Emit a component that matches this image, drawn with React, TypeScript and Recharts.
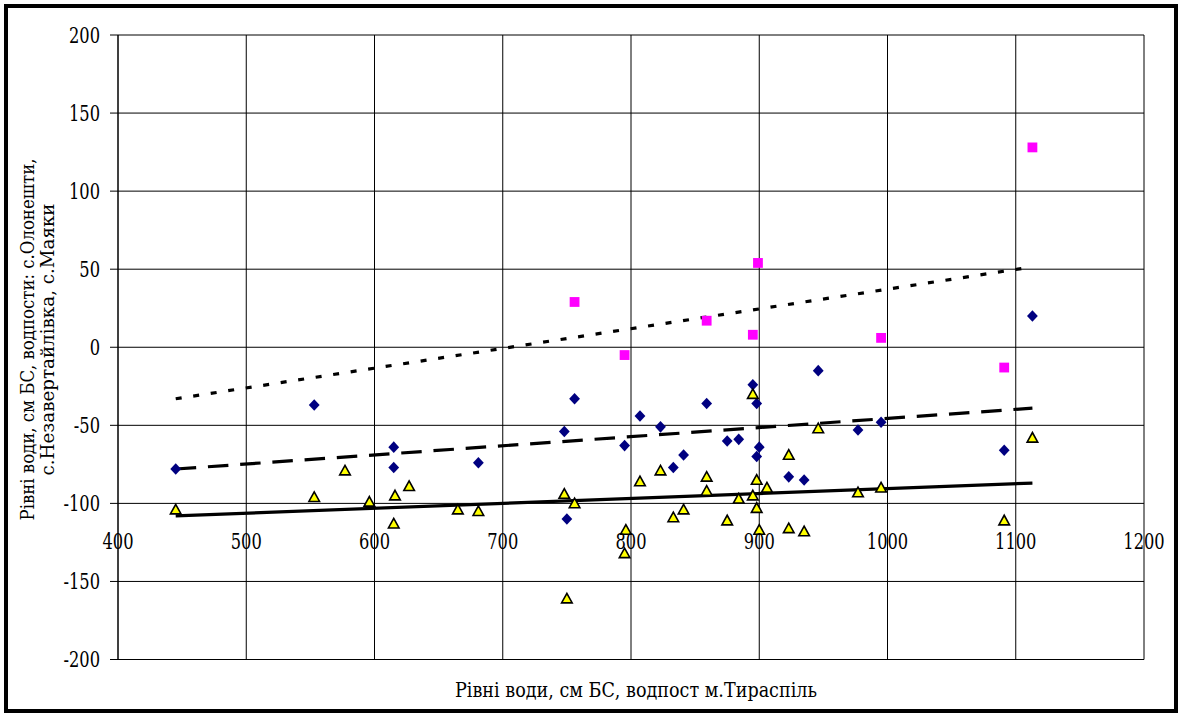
import React from 'react'
import {
  ScatterChart,
  Scatter,
  XAxis,
  YAxis,
  CartesianGrid,
  ReferenceLine,
} from 'recharts'

// axis ticks
const xTicks = [400, 500, 600, 700, 800, 900, 1000, 1100, 1200]
const yTicks = [-200, -150, -100, -50, 0, 50, 100, 150, 200]

// с.Олонешти (blue diamonds)
const blueX = [445, 553, 615, 615, 681, 748, 750, 756, 795, 807, 823, 833, 841, 859, 875, 884, 895, 898, 900, 898, 923, 935, 946, 977, 995, 1091, 1113]
const blueY = [-78, -37, -64, -77, -74, -54, -110, -33, -63, -44, -51, -77, -69, -36, -60, -59, -24, -36, -64, -70, -83, -85, -15, -53, -48, -66, 20]

// с.Незавертайлівка (magenta squares)
const pinkX = [756, 795, 859, 895, 899, 995, 1091, 1113]
const pinkY = [29, -5, 17, 8, 54, 6, -13, 128]

// с.Маяки (yellow triangles)
const yellowX = [445, 553, 577, 596, 615, 616, 627, 665, 681, 748, 750, 756, 795, 796, 807, 823, 833, 841, 859, 859, 875, 884, 895, 895, 898, 898, 900, 906, 923, 923, 935, 946, 977, 995, 1091, 1113]
const yellowY = [-104, -96, -79, -99, -113, -95, -89, -104, -105, -94, -161, -100, -132, -117, -86, -79, -109, -104, -83, -92, -111, -97, -30, -95, -85, -103, -117, -90, -69, -116, -118, -52, -93, -90, -111, -58]

// linear trend lines (start / end)
const trendX = [445, 1113]
const trendPink = [-33, 51.5]
const trendBlue = [-78, -39]
const trendYellow = [-108, -87]

const X_CROSS = -100

const W = 1178
const H = 713
const PLOT_TOP = 35
const PLOT_BOTTOM = 659.5
const PLOT_H = PLOT_BOTTOM - PLOT_TOP
// only DejaVu Serif resolves as a serif face here; squeeze it to look like Times
const FONT = 'DejaVu Serif'
const SQUEEZE = 0.74

const toPoints = (xs: number[], ys: number[]) => xs.map((x, i) => ({ x, y: ys[i] }))

const Diamond = ({ cx, cy }: any) => (
  <path d={`M${cx},${cy - 5.8} L${cx + 5.4},${cy} L${cx},${cy + 5.8} L${cx - 5.4},${cy} Z`} fill="#000080" />
)

const Square = ({ cx, cy }: any) => (
  <rect x={cx - 4.9} y={cy - 4.9} width={9.8} height={9.8} fill="#FF00FF" />
)

const Triangle = ({ cx, cy }: any) => (
  <path
    d={`M${cx},${cy - 5.3} L${cx + 5.3},${cy + 4.3} L${cx - 5.3},${cy + 4.3} Z`}
    fill="#FFFF00"
    stroke="#000"
    strokeWidth={1.6}
  />
)

const squeezed = (x: number, y: number) =>
  `translate(${x} ${y}) scale(${SQUEEZE} 1) translate(${-x} ${-y})`

// x tick labels sit under the line where the x axis crosses (y = -100)
const XTick = ({ x, y, payload }: any) => {
  const [yMin, yMax] = [yTicks[0], yTicks[yTicks.length - 1]]
  const crossY = y - (PLOT_H * (X_CROSS - yMin)) / (yMax - yMin)
  const cy = crossY + 38
  return (
    <text
      x={x}
      y={cy}
      dy="0.36em"
      textAnchor="middle"
      fill="#000"
      fontFamily={FONT}
      fontSize={22}
      transform={squeezed(x, cy)}
    >
      {payload.value}
    </text>
  )
}

const YTick = ({ x, y, payload }: any) => (
  <text
    x={x}
    y={y}
    dy="0.36em"
    textAnchor="end"
    fill="#000"
    fontFamily={FONT}
    fontSize={22}
    transform={squeezed(x, y)}
  >
    {payload.value}
  </text>
)

export default function App() {
  return (
    <div style={{ position: 'absolute', left: 0, top: 0, width: W, height: H, background: '#fff' }}>
      <ScatterChart
        width={W}
        height={H}
        margin={{ top: PLOT_TOP, right: 34, bottom: H - PLOT_BOTTOM - 30, left: 58 }}
      >
        <CartesianGrid stroke="#000" strokeWidth={1} />
        <XAxis
          type="number"
          dataKey="x"
          domain={[400, 1200]}
          ticks={xTicks}
          height={30}
          axisLine={false}
          tickLine={false}
          tickSize={0}
          tickMargin={0}
          tick={<XTick />}
          interval={0}
        />
        <YAxis
          type="number"
          dataKey="y"
          domain={[-200, 200]}
          ticks={yTicks}
          width={60}
          axisLine={{ stroke: '#000' }}
          tickLine={{ stroke: '#000' }}
          tickSize={8}
          tickMargin={10}
          interval={0}
          tick={<YTick />}
        />
        <Scatter data={toPoints(blueX, blueY)} shape={<Diamond />} isAnimationActive={false} />
        <Scatter data={toPoints(pinkX, pinkY)} shape={<Square />} isAnimationActive={false} />
        <Scatter data={toPoints(yellowX, yellowY)} shape={<Triangle />} isAnimationActive={false} />
        <ReferenceLine
          segment={[{ x: trendX[0], y: trendPink[0] }, { x: trendX[1], y: trendPink[1] }]}
          stroke="#000"
          strokeWidth={3.2}
          strokeDasharray="6 11.7"
        />
        <ReferenceLine
          segment={[{ x: trendX[0], y: trendBlue[0] }, { x: trendX[1], y: trendBlue[1] }]}
          stroke="#000"
          strokeWidth={3.2}
          strokeDasharray="20.5 11.8"
        />
        <ReferenceLine
          segment={[{ x: trendX[0], y: trendYellow[0] }, { x: trendX[1], y: trendYellow[1] }]}
          stroke="#000"
          strokeWidth={3.2}
        />
      </ScatterChart>

      <svg
        width={W}
        height={H}
        style={{ position: 'absolute', left: 0, top: 0, pointerEvents: 'none' }}
      >
        <text
          x={34}
          y={339.5}
          fill="#000"
          fontFamily={FONT}
          fontSize={18}
          textAnchor="middle"
          textLength={362}
          lengthAdjust="spacingAndGlyphs"
          transform="rotate(-90 34 339.5)"
        >
          Рівні води, см БС, водпости: с.Олонешти,
        </text>
        <text
          x={54}
          y={339.5}
          fill="#000"
          fontFamily={FONT}
          fontSize={18}
          textAnchor="middle"
          textLength={272}
          lengthAdjust="spacingAndGlyphs"
          transform="rotate(-90 54 339.5)"
        >
          с.Незавертайлівка, с.Маяки
        </text>
        <text
          x={636}
          y={697}
          fill="#000"
          fontFamily={FONT}
          fontSize={20}
          textAnchor="middle"
          textLength={362}
          lengthAdjust="spacingAndGlyphs"
        >
          Рівні води, см БС, водпост м.Тираспіль
        </text>
      </svg>

      <div
        style={{
          position: 'absolute',
          left: 4,
          top: 4,
          width: 1174,
          height: 709,
          border: '4px solid #000',
          boxSizing: 'border-box',
          pointerEvents: 'none',
        }}
      />
    </div>
  )
}
